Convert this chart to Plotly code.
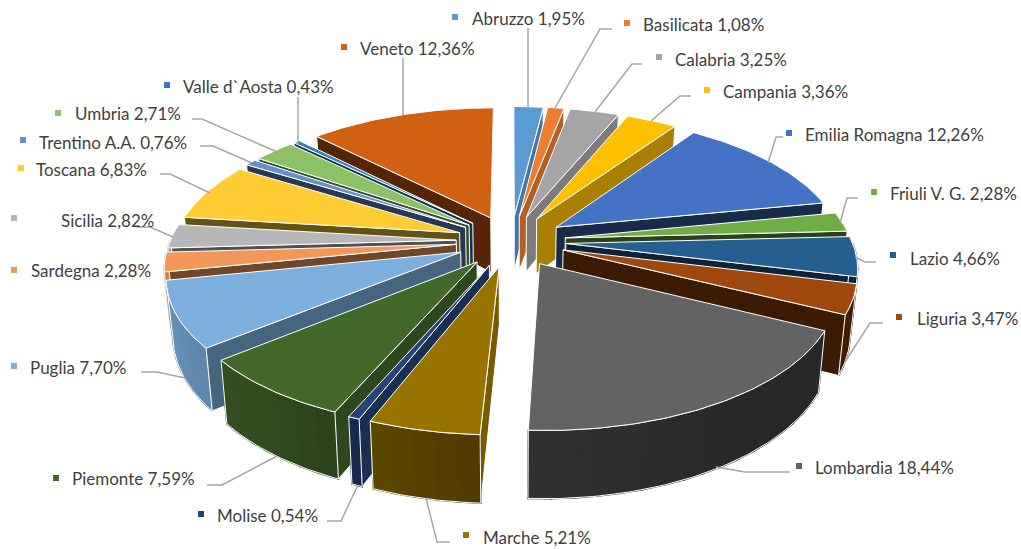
import math
import numpy as np
import plotly.graph_objects as go

regions = ["Abruzzo", "Basilicata", "Calabria", "Campania", "Emilia Romagna", "Friuli V. G.", "Lazio",
           "Liguria", "Lombardia", "Marche", "Molise", "Piemonte", "Puglia", "Sardegna", "Sicilia",
           "Toscana", "Trentino A.A.", "Umbria", "Valle d`Aosta", "Veneto"]
shares = [1.95, 1.08, 3.25, 3.36, 12.26, 2.28, 4.66, 3.47, 18.44, 5.21, 0.54, 7.59, 7.70, 2.28, 2.82,
          6.83, 0.76, 2.71, 0.43, 12.36]
colors = ["#5B9BD5", "#ED7D31", "#A5A5A5", "#FFC000", "#4472C4", "#70AD47", "#255E91", "#9E480E",
          "#636363", "#997300", "#264478", "#43682B", "#7CAFDD", "#F1975A", "#B7B7B7", "#FFCD33",
          "#698ED0", "#8CC168", "#327DC2", "#D26012"]

# label placement (pixel axes): text left edge, text centre y, marker x, marker y
text_x = [471, 642, 674, 722, 804, 889, 909, 916, 814, 482, 216, 71, 29, 30, 60, 35, 38, 74, 182, 359]
text_y = [18, 24, 59, 91, 134, 193, 258, 318, 467, 537, 515, 478, 367, 270, 220, 169, 142, 113, 86, 48]
mark_x = [455, 627, 659, 707, 789, 874, 893, 899, 799, 466, 201, 56, 14, 14, 14, 21, 23, 58, 167, 344]
mark_y = [17, 23, 57, 90, 133, 192, 255, 317, 466, 535, 514, 478, 366, 270, 218, 168, 140, 113, 85, 47]

leaders = [
    [(528, 28), (528, 108)],
    [(612, 29), (600, 29), (555, 108)],
    [(642, 64), (632, 64), (595, 112)],
    [(691, 96), (680, 96), (651, 121)],
    [(783, 137), (776, 137), (768, 163)],
    [(858, 198), (847, 198), (840, 223)],
    [(876, 262), (865, 262), (855, 257)],
    [(883, 323), (870, 323), (845, 362)],
    [(790, 472), (745, 472), (716, 467)],
    [(450, 542), (437, 542), (426, 498)],
    [(327, 521), (341, 521), (358, 485)],
    [(207, 485), (222, 485), (277, 456)],
    [(141, 372), (157, 372), (185, 378)],
    [(137, 227), (150, 227), (173, 237)],
    [(160, 174), (170, 174), (210, 193)],
    [(200, 146), (213, 146), (252, 163)],
    [(192, 119), (202, 119), (277, 152)],
    [(298, 97), (298, 145)],
    [(403, 58), (403, 115)],
]

# projection of the tilted, exploded pie
CX, CY, RX, RY, DEPTH, PERSP, PERSP_X, EXPLODE = 511, 241, 286, 133.5, 56, 0.1534, 0.155, 0.192
LEADER = "#A6A6A6"
TEXT = "#404040"


def proj(X, Y, z=0.0):
    p = 1 / (1 - PERSP * Y)
    px = 1 / (1 - PERSP_X * Y)
    return (CX + RX * X * px * (1 - 0.02 * z), CY + RY * Y * p + DEPTH * z * p)


def shade(hex_color, f):
    r, g, b = int(hex_color[1:3], 16), int(hex_color[3:5], 16), int(hex_color[5:7], 16)
    return f"rgb({int(r * f)},{int(g * f)},{int(b * f)})"


def radial_factor(theta):
    if theta < 180:
        return float(np.interp(theta, [0, 25, 35, 79, 180], [0.78, 0.75, 0.66, 0.38, 0.38]))
    return float(np.interp(theta, [180, 202, 231, 277, 360], [0.8, 0.7, 0.58, 0.4, 0.4]))


def outer_factor(theta):
    return float(np.interp(theta, [100, 150, 180, 195, 215, 250, 270],
                           [0.4, 0.42, 0.5, 0.58, 0.72, 0.83, 0.85]))


fig = go.Figure()


def poly(pts, fill, line="white", width=1.0):
    fig.add_trace(go.Scatter(
        x=[p[0] for p in pts] + [pts[0][0]], y=[p[1] for p in pts] + [pts[0][1]],
        mode="lines", fill="toself", fillcolor=fill, line=dict(color=line, width=width),
        hoverinfo="skip", showlegend=False))


slices = []
start = 0.0
total = sum(shares)
for name, val, col in zip(regions, shares, colors):
    t0 = start / total * 360
    t1 = (start + val) / total * 360
    start += val
    m = math.radians((t0 + t1) / 2)
    ax, ay = EXPLODE * math.sin(m), -EXPLODE * math.cos(m)
    slices.append(dict(t0=t0, t1=t1, ax=ax, ay=ay, col=col, depth=ay - 0.6 * math.cos(m)))


def rim(s, theta):
    a = math.radians(theta)
    return s["ax"] + math.sin(a), s["ay"] - math.cos(a)


for s in sorted(slices, key=lambda d: d["depth"]):
    t0, t1, col = s["t0"], s["t1"], s["col"]
    apex = (s["ax"], s["ay"])
    walls = []
    if t1 < 180:
        walls.append(t1)
    if t0 > 180:
        walls.append(t0)
    for w in walls:
        e = rim(s, w)
        poly([proj(*apex, 0), proj(*e, 0), proj(*e, 1), proj(*apex, 1)], shade(col, radial_factor(w)))
    lo, hi = max(t0, 90), min(t1, 270)
    if hi > lo:
        n = max(2, int((hi - lo) / 4) + 1)
        th = np.linspace(lo, hi, n + 1)
        for a, b in zip(th[:-1], th[1:]):
            sub = np.linspace(a, b, 4)
            up = [proj(*rim(s, x), 0) for x in sub]
            dn = [proj(*rim(s, x), 1) for x in sub[::-1]]
            c = shade(col, outer_factor((a + b) / 2))
            poly(up + dn, c, line=c, width=1.5)
        th2 = np.linspace(lo, hi, n * 4)
        edge = [proj(*rim(s, x), 0) for x in th2] + [proj(*rim(s, x), 1) for x in th2[::-1]]
        fig.add_trace(go.Scatter(x=[p[0] for p in edge] + [edge[0][0]], y=[p[1] for p in edge] + [edge[0][1]],
                                 mode="lines", line=dict(color="white", width=1), hoverinfo="skip", showlegend=False))
    arc = [proj(*rim(s, x), 0) for x in np.linspace(t0, t1, max(4, int(t1 - t0) + 2))]
    poly([proj(*apex, 0)] + arc, col)

for pts in leaders:
    fig.add_trace(go.Scatter(x=[p[0] for p in pts], y=[p[1] for p in pts], mode="lines",
                             line=dict(color=LEADER, width=1.5), hoverinfo="skip", showlegend=False))

fig.add_trace(go.Scatter(x=mark_x, y=mark_y, mode="markers",
                         marker=dict(symbol="square", size=6, color=colors), hoverinfo="skip", showlegend=False))

for name, val, x, y in zip(regions, shares, text_x, text_y):
    pct = format(val, ".2f").replace(".", ",")
    fig.add_annotation(x=x, y=y, text=f"{name} {pct}%", showarrow=False, xanchor="left", yanchor="middle", borderpad=0,
                       font=dict(family="Lato", size=17, color=TEXT))

fig.update_layout(
    width=1021, height=549, margin=dict(l=0, r=0, t=0, b=0), paper_bgcolor="white", plot_bgcolor="white",
    showlegend=False,
    xaxis=dict(range=[0, 1021], visible=False, fixedrange=True),
    yaxis=dict(range=[549, 0], visible=False, fixedrange=True),
)
fig.write_html("out.html", config={"displayModeBar": False},
               post_script="document.body.style.margin='0';document.documentElement.style.overflow='hidden';")
